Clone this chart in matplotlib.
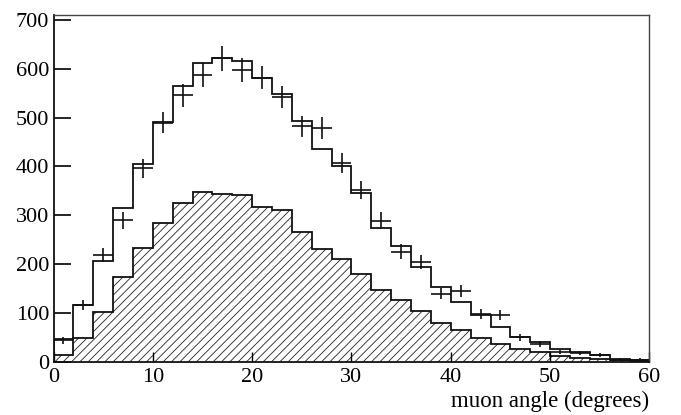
import matplotlib
matplotlib.use("Agg")
import matplotlib.pyplot as plt
import numpy as np

plt.rcParams['font.family'] = ['Liberation Serif', 'DejaVu Serif']
plt.rcParams['hatch.linewidth'] = 0.6
plt.rcParams['hatch.color'] = '#222222'

bin_edges = list(range(0, 62, 2))
bin_centers = list(range(1, 61, 2))

data_counts = [44, 117, 219, 290, 396, 490, 546, 587, 621, 598,
               582, 542, 482, 479, 407, 352, 289, 226, 205, 140,
               145, 98, 96, 51, 37, 20, 18, 14, 5, 5]
data_errors = [6.6, 10.8, 14.8, 17.0, 19.9, 22.1, 23.4, 24.2, 24.9, 24.5,
               24.1, 23.3, 22.0, 21.9, 20.2, 18.8, 17.0, 15.0, 14.3, 11.8,
               12.0, 9.9, 9.8, 7.1, 6.1, 4.5, 4.2, 3.7, 2.2, 2.2]
mc_total = [48, 117, 207, 315, 405, 492, 565, 612, 622, 615,
            582, 548, 494, 436, 402, 345, 275, 237, 195, 154,
            122, 97, 72, 51, 40, 26, 20, 15, 7, 4]
mc_component = [14, 50, 103, 173, 233, 284, 325, 348, 344, 342,
                317, 311, 267, 231, 211, 180, 147, 126, 104, 80,
                65, 50, 37, 27, 20, 12, 8, 6, 4, 2]

x_ticks = [0, 10, 20, 30, 40, 50, 60]
y_ticks = [0, 100, 200, 300, 400, 500, 600, 700]
x_label = "muon angle (degrees)"

fig = plt.figure(figsize=(6.81, 4.15), dpi=100)
ax = fig.add_axes([0.0786, 0.1277, 0.8751, 0.8362])

ax.stairs(mc_component, bin_edges, fill=True, facecolor='white',
          edgecolor='#222222', hatch='////', linewidth=0)
ax.stairs(mc_component, bin_edges, fill=False, color='#111111', linewidth=1.3)
ax.stairs(mc_total, bin_edges, fill=False, color='#111111', linewidth=1.3)

half_width = [1.0] * len(bin_centers)
ax.errorbar(bin_centers, data_counts, yerr=data_errors, xerr=half_width,
            fmt='none', ecolor='#111111', elinewidth=1.2, capsize=0)

ax.set_xlim(0, 60)
ax.set_ylim(0, 710)
ax.set_xticks(x_ticks)
ax.set_yticks(y_ticks)
ax.tick_params(axis='x', direction='in', length=7, width=1.0, labelsize=16,
               pad=4, top=False)
ax.tick_params(axis='y', direction='in', length=12, width=1.2, labelsize=16,
               pad=3, right=False)
for s in ['left', 'bottom']:
    ax.spines[s].set_linewidth(1.3)
    ax.spines[s].set_color('#111111')
for s in ['top', 'right']:
    ax.spines[s].set_linewidth(1.0)
    ax.spines[s].set_color('#444444')

ax.set_xlabel(x_label, fontsize=16.5, loc='right', labelpad=3)

fig.savefig("out.png", dpi=100)
